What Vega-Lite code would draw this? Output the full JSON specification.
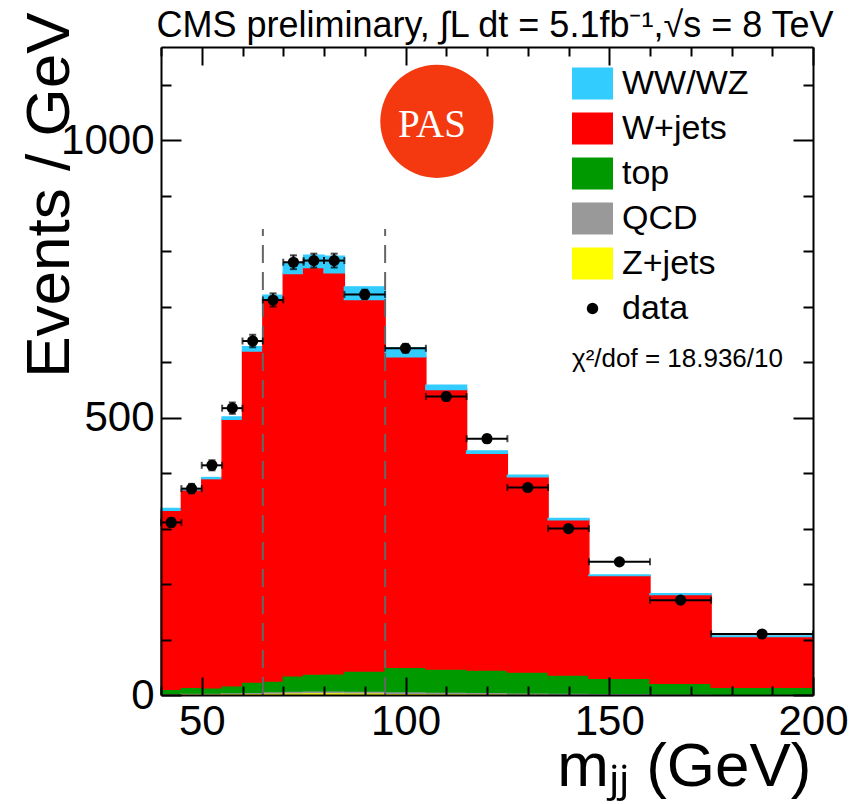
{
  "$schema": "https://vega.github.io/schema/vega-lite/v6.json",
  "width": 652,
  "height": 648,
  "autosize": {"type": "none"},
  "padding": {"left": 161, "top": 47, "right": 40, "bottom": 109},
  "background": "white",
  "title": {"text": "CMS preliminary, ∫L dt = 5.1fb⁻¹,√s = 8 TeV", "fontSize": 36, "fontWeight": "normal", "font": "Liberation Sans", "color": "black", "anchor": "middle", "offset": 4, "dx": 8, "dy": 37},
  "datasets": {
    "mc": [
      {"lo": 40, "hi": 45, "Z+jets": 1.5, "QCD": 1.5, "top": 7.2, "W+jets": 322.8, "WW/WZ": 3.3},
      {"lo": 45, "hi": 50, "Z+jets": 2, "QCD": 1.5, "top": 10.3, "W+jets": 356, "WW/WZ": 1.7},
      {"lo": 50, "hi": 55, "Z+jets": 2, "QCD": 1.5, "top": 9.7, "W+jets": 376.8, "WW/WZ": 2},
      {"lo": 55, "hi": 60, "Z+jets": 2.5, "QCD": 2, "top": 12.3, "W+jets": 480, "WW/WZ": 4.2},
      {"lo": 60, "hi": 65, "Z+jets": 3, "QCD": 2, "top": 18.4, "W+jets": 596.6, "WW/WZ": 7.6},
      {"lo": 65, "hi": 70, "Z+jets": 3.5, "QCD": 2.5, "top": 19.2, "W+jets": 686.5, "WW/WZ": 9},
      {"lo": 70, "hi": 75, "Z+jets": 4, "QCD": 3, "top": 27.8, "W+jets": 725, "WW/WZ": 18},
      {"lo": 75, "hi": 80, "Z+jets": 4.5, "QCD": 3, "top": 30.3, "W+jets": 732.8, "WW/WZ": 22.2},
      {"lo": 80, "hi": 85, "Z+jets": 4.5, "QCD": 3, "top": 30.9, "W+jets": 722.6, "WW/WZ": 30},
      {"lo": 85, "hi": 95, "Z+jets": 4, "QCD": 3, "top": 36.2, "W+jets": 669.8, "WW/WZ": 22.7},
      {"lo": 95, "hi": 105, "Z+jets": 3, "QCD": 3, "top": 43.9, "W+jets": 559.7, "WW/WZ": 16.4},
      {"lo": 105, "hi": 115, "Z+jets": 2.5, "QCD": 3, "top": 41.3, "W+jets": 503.8, "WW/WZ": 8},
      {"lo": 115, "hi": 125, "Z+jets": 2, "QCD": 3, "top": 40, "W+jets": 390.5, "WW/WZ": 4.5},
      {"lo": 125, "hi": 135, "Z+jets": 1.5, "QCD": 2.5, "top": 37.4, "W+jets": 352, "WW/WZ": 3},
      {"lo": 135, "hi": 145, "Z+jets": 1.2, "QCD": 2.5, "top": 32.3, "W+jets": 280, "WW/WZ": 2.3},
      {"lo": 145, "hi": 160, "Z+jets": 1, "QCD": 2, "top": 27, "W+jets": 185.2, "WW/WZ": 1.3},
      {"lo": 160, "hi": 175, "Z+jets": 0.8, "QCD": 1.5, "top": 18.7, "W+jets": 160, "WW/WZ": 1.5},
      {"lo": 175, "hi": 200, "Z+jets": 0.5, "QCD": 1, "top": 12.4, "W+jets": 91.6, "WW/WZ": 1}
    ],
    "obs": [
      {"lo": 40, "hi": 45, "xc": 42.5, "y": 311, "ylo": 303.1, "yhi": 318.9},
      {"lo": 45, "hi": 50, "xc": 47.5, "y": 372, "ylo": 363.4, "yhi": 380.6},
      {"lo": 50, "hi": 55, "xc": 52.5, "y": 414, "ylo": 404.9, "yhi": 423.1},
      {"lo": 55, "hi": 60, "xc": 57.5, "y": 517, "ylo": 506.8, "yhi": 527.2},
      {"lo": 60, "hi": 65, "xc": 62.5, "y": 638, "ylo": 626.7, "yhi": 649.3},
      {"lo": 65, "hi": 70, "xc": 67.5, "y": 712, "ylo": 700.1, "yhi": 723.9},
      {"lo": 70, "hi": 75, "xc": 72.5, "y": 780, "ylo": 767.5, "yhi": 792.5},
      {"lo": 75, "hi": 80, "xc": 77.5, "y": 783, "ylo": 770.5, "yhi": 795.5},
      {"lo": 80, "hi": 85, "xc": 82.5, "y": 783, "ylo": 770.5, "yhi": 795.5},
      {"lo": 85, "hi": 95, "xc": 90, "y": 722, "ylo": 713.5, "yhi": 730.5},
      {"lo": 95, "hi": 105, "xc": 100, "y": 625, "ylo": 617.1, "yhi": 632.9},
      {"lo": 105, "hi": 115, "xc": 110, "y": 538, "ylo": 530.7, "yhi": 545.3},
      {"lo": 115, "hi": 125, "xc": 120, "y": 462, "ylo": 455.2, "yhi": 468.8},
      {"lo": 125, "hi": 135, "xc": 130, "y": 374, "ylo": 367.9, "yhi": 380.1},
      {"lo": 135, "hi": 145, "xc": 140, "y": 300, "ylo": 294.5, "yhi": 305.5},
      {"lo": 145, "hi": 160, "xc": 152.5, "y": 240, "ylo": 236, "yhi": 244},
      {"lo": 160, "hi": 175, "xc": 167.5, "y": 171, "ylo": 167.6, "yhi": 174.4},
      {"lo": 175, "hi": 200, "xc": 187.5, "y": 110, "ylo": 107.9, "yhi": 112.1}
    ],
    "cuts": [{"m": 65}, {"m": 95}]
  },
  "layer": [
    {
      "data": {"name": "mc"},
      "transform": [
        {"fold": ["Z+jets", "QCD", "top", "W+jets", "WW/WZ"], "as": ["sample", "value"]},
        {"calculate": "indexof(['Z+jets','QCD','top','W+jets','WW/WZ'], datum.sample)", "as": "ord"},
        {"stack": "value", "groupby": ["lo"], "sort": [{"field": "ord", "order": "ascending"}], "as": ["v0", "v1"]}
      ],
      "mark": {"type": "bar", "strokeWidth": 1.4},
      "encoding": {
        "x": {"field": "lo", "type": "quantitative", "scale": {"domain": [40, 200], "nice": false, "zero": false},
          "axis": {"orient": "bottom", "values": [50, 100, 150, 200], "ticks": false, "domain": false, "labelFontSize": 42, "labelPadding": 6, "labelFlush": false, "labelOverlap": false, "title": "mⱼⱼ (GeV)", "titleFontSize": 62, "titleFontWeight": "normal", "titleAnchor": "end", "titleAlign": "right", "titleX": 650, "titleY": 90, "titleBaseline": "alphabetic"}},
        "x2": {"field": "hi"},
        "y": {"field": "v0", "type": "quantitative", "scale": {"domain": [0, 1168], "nice": false, "zero": true},
          "axis": {"orient": "left", "values": [0, 500, 1000], "format": "d", "ticks": false, "domain": false, "labelFontSize": 42, "labelPadding": 7, "labelFlush": false, "labelOverlap": false, "title": "Events / GeV", "titleFontSize": 62, "titleFontWeight": "normal", "titleAnchor": "end", "titleAlign": "right", "titleAngle": 270, "titleX": -93, "titleY": -35, "titleBaseline": "alphabetic"}},
        "y2": {"field": "v1"},
        "color": {"field": "sample", "type": "nominal",
          "scale": {"domain": ["WW/WZ", "W+jets", "top", "QCD", "Z+jets", "data"], "range": ["#33ccff", "#ff0000", "#009900", "#999999", "#ffff00", "#000000"]},
          "legend": {"orient": "none", "legendX": 411, "legendY": 16, "title": "χ²/dof = 18.936/10", "titleOrient": "bottom", "titleAnchor": "start", "titleFontSize": 26, "titleFontWeight": "normal", "titlePadding": 20, "titleLimit": 500, "labelFontSize": 34, "labelOffset": 9, "symbolSize": 1681, "rowPadding": 7, "padding": 0, "labelLimit": 400,
            "encode": {"symbols": {"update": {"shape": {"signal": "datum.value === 'data' ? 'circle' : 'M-1,-0.78H1V0.78H-1Z'"}, "size": {"signal": "datum.value === 'data' ? 130 : 1681"}, "strokeWidth": {"value": 0}}}}}},
        "stroke": {"field": "sample", "type": "nominal",
          "scale": {"domain": ["WW/WZ", "W+jets", "top", "QCD", "Z+jets", "data"], "range": ["#33ccff", "#ff0000", "#009900", "#999999", "#ffff00", "#000000"]},
          "legend": null}
      }
    },
    {
      "data": {"name": "cuts"},
      "mark": {"type": "rule", "color": "#666666", "strokeWidth": 2, "strokeDash": [18, 9]},
      "encoding": {
        "x": {"field": "m", "type": "quantitative", "scale": {"domain": [40, 200], "nice": false, "zero": false},
          "axis": {"orient": "bottom", "values": [50, 100, 150, 200], "tickSize": -18, "tickWidth": 2, "labels": false, "domain": true, "domainWidth": 2, "title": null, "zindex": 1}},
        "y": {"datum": 0, "type": "quantitative", "scale": {"domain": [0, 1168], "nice": false, "zero": true},
          "axis": {"orient": "left", "values": [0, 500, 1000], "tickSize": -20, "tickWidth": 2, "labels": false, "domain": true, "domainWidth": 2, "title": null, "zindex": 1}},
        "y2": {"datum": 840}
      }
    },
    {
      "data": {"name": "obs"},
      "mark": {"type": "rule", "color": "black", "strokeWidth": 2},
      "encoding": {
        "x": {"field": "lo", "type": "quantitative", "scale": {"domain": [40, 200], "nice": false, "zero": false},
          "axis": {"orient": "bottom", "values": [40, 60, 70, 80, 90, 110, 120, 130, 140, 160, 170, 180, 190], "tickSize": -9, "tickWidth": 2, "labels": false, "domain": false, "title": null, "zindex": 1}},
        "x2": {"field": "hi"},
        "y": {"field": "y", "type": "quantitative", "scale": {"domain": [0, 1168], "nice": false, "zero": true},
          "axis": {"orient": "left", "values": [100, 200, 300, 400, 600, 700, 800, 900, 1100], "tickSize": -10, "tickWidth": 2, "labels": false, "domain": false, "title": null, "zindex": 1}}
      }
    },
    {
      "data": {"name": "obs"},
      "mark": {"type": "rule", "color": "black", "strokeWidth": 2},
      "encoding": {
        "x": {"field": "xc", "type": "quantitative", "scale": {"domain": [40, 200], "nice": false, "zero": false},
          "axis": {"orient": "top", "values": [50, 100, 150, 200], "tickSize": -18, "tickWidth": 2, "labels": false, "domain": true, "domainWidth": 2, "title": null, "zindex": 1}},
        "y": {"field": "ylo", "type": "quantitative", "scale": {"domain": [0, 1168], "nice": false, "zero": true},
          "axis": {"orient": "right", "values": [0, 500, 1000], "tickSize": -20, "tickWidth": 2, "labels": false, "domain": true, "domainWidth": 2, "title": null, "zindex": 1}},
        "y2": {"field": "yhi"}
      }
    },
    {
      "data": {"name": "obs"},
      "mark": {"type": "tick", "orient": "vertical", "color": "black", "size": 7, "thickness": 2},
      "encoding": {
        "x": {"field": "lo", "type": "quantitative", "scale": {"domain": [40, 200], "nice": false, "zero": false},
          "axis": {"orient": "top", "values": [40, 60, 70, 80, 90, 110, 120, 130, 140, 160, 170, 180, 190], "tickSize": -9, "tickWidth": 2, "labels": false, "domain": false, "title": null, "zindex": 1}},
        "y": {"field": "y", "type": "quantitative", "scale": {"domain": [0, 1168], "nice": false, "zero": true},
          "axis": {"orient": "right", "values": [100, 200, 300, 400, 600, 700, 800, 900, 1100], "tickSize": -10, "tickWidth": 2, "labels": false, "domain": false, "title": null, "zindex": 1}}
      }
    },
    {
      "data": {"name": "obs"},
      "mark": {"type": "tick", "orient": "vertical", "color": "black", "size": 7, "thickness": 2},
      "encoding": {
        "x": {"field": "hi", "type": "quantitative", "scale": {"domain": [40, 200], "nice": false, "zero": false}, "axis": null},
        "y": {"field": "y", "type": "quantitative", "scale": {"domain": [0, 1168], "nice": false, "zero": true}, "axis": null}
      }
    },
    {
      "data": {"name": "obs"},
      "mark": {"type": "tick", "orient": "horizontal", "color": "black", "size": 7, "thickness": 2},
      "encoding": {
        "x": {"field": "xc", "type": "quantitative", "scale": {"domain": [40, 200], "nice": false, "zero": false}, "axis": null},
        "y": {"field": "ylo", "type": "quantitative", "scale": {"domain": [0, 1168], "nice": false, "zero": true}, "axis": null}
      }
    },
    {
      "data": {"name": "obs"},
      "mark": {"type": "tick", "orient": "horizontal", "color": "black", "size": 7, "thickness": 2},
      "encoding": {
        "x": {"field": "xc", "type": "quantitative", "scale": {"domain": [40, 200], "nice": false, "zero": false}, "axis": null},
        "y": {"field": "yhi", "type": "quantitative", "scale": {"domain": [0, 1168], "nice": false, "zero": true}, "axis": null}
      }
    },
    {
      "data": {"name": "obs"},
      "mark": {"type": "point", "filled": true, "color": "black", "size": 125, "opacity": 1},
      "encoding": {
        "x": {"field": "xc", "type": "quantitative", "scale": {"domain": [40, 200], "nice": false, "zero": false}, "axis": null},
        "y": {"field": "y", "type": "quantitative", "scale": {"domain": [0, 1168], "nice": false, "zero": true}, "axis": null}
      }
    },
    {
      "data": {"values": [{"label": "PAS"}]},
      "mark": {"type": "point", "filled": true, "color": "#f4380f", "size": 12800, "opacity": 1},
      "encoding": {
        "x": {"datum": 107.7, "type": "quantitative", "scale": {"domain": [40, 200], "nice": false, "zero": false}, "axis": null},
        "y": {"datum": 1034, "type": "quantitative", "scale": {"domain": [0, 1168], "nice": false, "zero": true}, "axis": null}
      }
    },
    {
      "data": {"values": [{"label": "PAS"}]},
      "mark": {"type": "text", "color": "white", "font": "Liberation Serif", "fontSize": 39, "align": "center", "baseline": "middle", "dx": -5, "dy": 4},
      "encoding": {
        "x": {"datum": 107.7, "type": "quantitative", "scale": {"domain": [40, 200], "nice": false, "zero": false}, "axis": null},
        "y": {"datum": 1034, "type": "quantitative", "scale": {"domain": [0, 1168], "nice": false, "zero": true}, "axis": null},
        "text": {"field": "label"}
      }
    }
  ],
  "config": {
    "view": {"stroke": null},
    "font": "Liberation Sans",
    "axis": {"grid": false, "labelFont": "Liberation Sans", "titleFont": "Liberation Sans", "labelColor": "black", "titleColor": "black", "tickColor": "black", "domainColor": "black"},
    "legend": {"labelFont": "Liberation Sans", "titleFont": "Liberation Sans", "labelColor": "black", "titleColor": "black"}
  }
}
